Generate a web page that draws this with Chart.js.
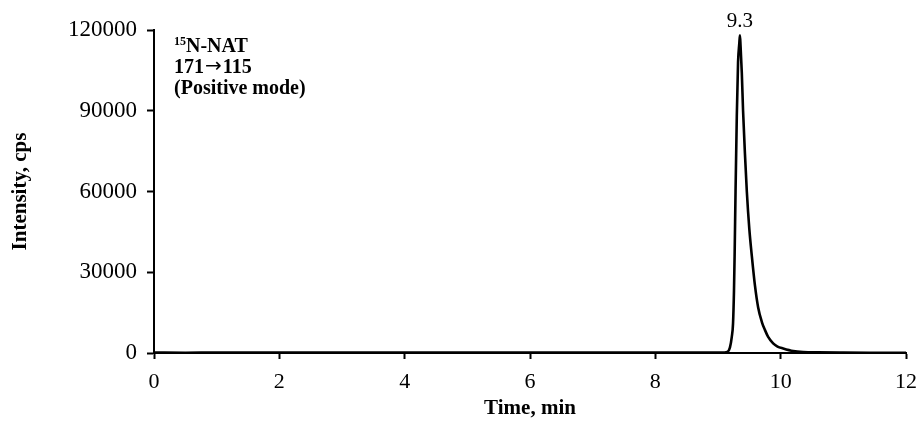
<!DOCTYPE html>
<html>
<head>
<meta charset="utf-8">
<script src="https://cdn.jsdelivr.net/npm/chart.js@4.4.1/dist/chart.umd.min.js"></script>
<style>
  html, body { margin: 0; padding: 0; background: #fff; }
  #wrap { width: 920px; height: 421px; }
</style>
</head>
<body>
<div id="wrap"><canvas id="chromChart" width="920" height="421"></canvas></div>
<script>
// retention time (min) and intensity (cps)
const times = [0, 0.5, 1, 1.5, 2, 2.5, 3, 3.5, 4, 4.5, 5, 5.5, 6, 6.5, 7, 7.5, 8, 8.5, 9, 9.1,
  9.15, 9.19, 9.22, 9.24, 9.255, 9.265, 9.28, 9.30, 9.32, 9.34, 9.35, 9.36, 9.38, 9.40, 9.43,
  9.46, 9.50, 9.54, 9.59, 9.64, 9.70, 9.75, 9.80, 9.88, 9.95, 10.04, 10.2, 10.36, 10.6, 11, 11.5, 12];
const intensity = [150, 120, 180, 140, 160, 130, 170, 150, 140, 160, 130, 150, 170, 140, 150, 160, 140, 150, 170, 200,
  400, 2000, 6000, 11000, 23000, 36000, 60000, 88000, 108000, 115000, 118000, 114000, 104000, 90000, 74000,
  60000, 46000, 36000, 25000, 17000, 11500, 8500, 6000, 3600, 2400, 1700, 750, 370, 220, 140, 100, 80];

const xTicks = [0, 2, 4, 6, 8, 10, 12];
const yTicks = [0, 30000, 60000, 90000, 120000];
const peakLabel = { time: 9.35, value: 118000, text: "9.3" };
const noteSup = "15";
const noteLines = ["N-NAT", ["171", "\u2192", "115"], "(Positive mode)"];

const serif = "'Liberation Serif', 'Times New Roman', serif";

const notePlugin = {
  id: "notes",
  afterDatasetsDraw(chart) {
    const ctx = chart.ctx;
    const xs = chart.scales.x, ys = chart.scales.y;
    ctx.save();
    ctx.fillStyle = "#000";
    // peak retention time label
    ctx.font = "21px " + serif;
    ctx.textAlign = "center";
    ctx.textBaseline = "alphabetic";
    ctx.fillText(peakLabel.text, xs.getPixelForValue(peakLabel.time), ys.getPixelForValue(peakLabel.value) - 8);
    // compound / transition note
    ctx.textAlign = "left";
    const x0 = chart.chartArea.left + 20;
    let y = chart.chartArea.top + 22;
    ctx.font = "bold 12px " + serif;
    ctx.fillText(noteSup, x0, y - 7);
    const w = ctx.measureText(noteSup).width;
    ctx.font = "bold 20px " + serif;
    ctx.fillText(noteLines[0], x0 + w, y);
    y += 21;
    let x = x0;
    const parts = noteLines[1];
    ctx.fillText(parts[0], x, y);
    x += ctx.measureText(parts[0]).width + 1;
    ctx.font = "20px 'DejaVu Sans', sans-serif";
    ctx.fillText(parts[1], x, y - 1);
    x += ctx.measureText(parts[1]).width + 1;
    ctx.font = "bold 20px " + serif;
    ctx.fillText(parts[2], x, y);
    y += 21;
    ctx.fillText(noteLines[2], x0, y);
    ctx.restore();
  }
};

const points = times.map((t, i) => ({ x: t, y: intensity[i] }));

new Chart(document.getElementById("chromChart"), {
  type: "line",
  data: {
    datasets: [{
      data: points,
      borderColor: "#000",
      borderWidth: 2.6,
      pointRadius: 0,
      cubicInterpolationMode: "monotone",
      fill: false
    }]
  },
  options: {
    responsive: false,
    animation: false,
    events: [],
    layout: { padding: { left: 8, top: 30, right: 14, bottom: 0 } },
    plugins: { legend: { display: false }, tooltip: { enabled: false } },
    scales: {
      x: {
        type: "linear",
        min: 0, max: 12,
        afterBuildTicks: s => { s.ticks = xTicks.map(v => ({ value: v })); },
        afterFit: s => { s.height = 68; s.paddingLeft = 0; s.paddingRight = 0; },
        grid: { drawOnChartArea: false, drawTicks: true, tickLength: 6, tickWidth: 2, tickColor: "#000" },
        border: { color: "#000", width: 2 },
        ticks: { color: "#000", font: { family: serif, size: 22 }, padding: 10, maxRotation: 0 },
        title: { display: true, text: "Time, min", color: "#000", font: { family: serif, size: 21, weight: "bold" }, padding: { top: 0, bottom: 0 } }
      },
      y: {
        type: "linear",
        min: 0, max: 120000,
        afterBuildTicks: s => { s.ticks = yTicks.map(v => ({ value: v })); },
        afterFit: s => { s.width = 146; s.paddingTop = 0; s.paddingBottom = 0; },
        grid: { drawOnChartArea: false, drawTicks: true, tickLength: 7, tickWidth: 2, tickColor: "#000" },
        border: { color: "#000", width: 2 },
        ticks: { color: "#000", font: { family: serif, size: 23 }, padding: 10, callback: v => String(v) },
        title: { display: true, text: "Intensity, cps", color: "#000", font: { family: serif, size: 21, weight: "bold" }, padding: 0 }
      }
    }
  },
  plugins: [notePlugin]
});
</script>
</body>
</html>
